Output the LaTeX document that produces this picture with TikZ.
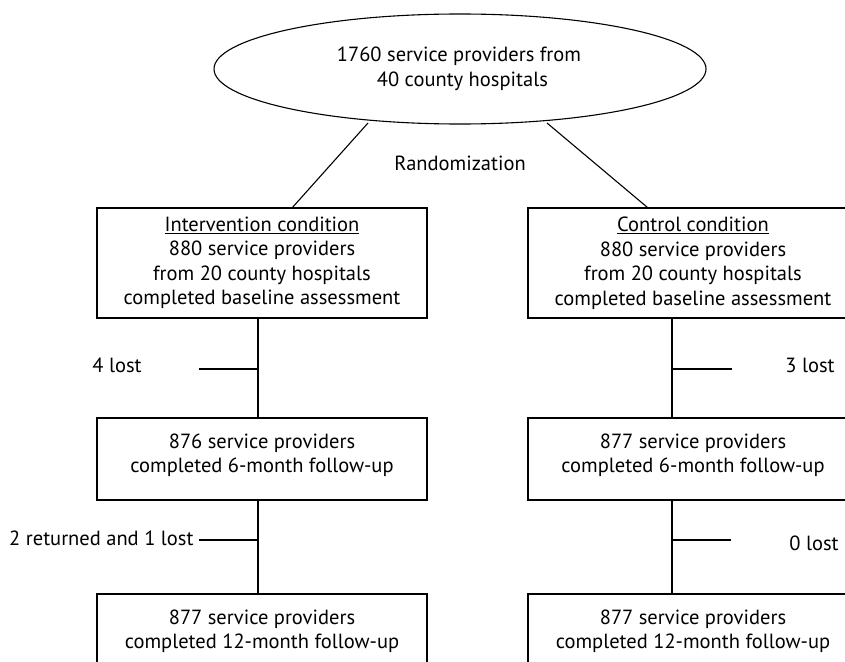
\documentclass[tikz,border=0pt]{standalone}
\usepackage{fontspec}
\setmainfont{PT Sans}
\usetikzlibrary{shapes.geometric,calc}
\begin{document}
\begin{tikzpicture}[x=1pt,y=-1pt,
  line width=1.1pt,
  every node/.style={font=\fontsize{20.5}{24.5}\selectfont, inner sep=0pt},
  flowbox/.style={draw, rectangle, minimum width=330pt, align=center},
]
\useasboundingbox (0,0) rectangle (845,661);
\clip (0,0) rectangle (845,661);
% ellipse
\node[draw, ellipse, minimum width=492pt, minimum height=110pt] (e) at (460,69) {};
\node[align=center] (et) at (459,69) {1760 service providers from\\ \,\,40 county hospitals};
\node (rand) at (460,163) {Randomization};
% row 1
\node[flowbox, minimum height=110pt] (b1l) at (262,263)
  {\underline{Intervention condition}\\880 service providers\\from 20 county hospitals\\completed baseline assessment};
\node[flowbox, minimum height=110pt] (b1r) at (693,263)
  {\underline{Control condition}\\880 service providers\\from 20 county hospitals\\completed baseline assessment};
% row 2
\node[flowbox, minimum height=82pt, text depth=12pt] (b2l) at (262,459)
  {876 service providers\\completed 6-month follow-up};
\node[flowbox, minimum height=82pt, text depth=12pt] (b2r) at (693,459)
  {877 service providers\\completed 6-month follow-up};
% row 3
\node[flowbox, minimum height=82pt, text depth=12pt] (b3l) at (262,635)
  {877 service providers\\completed 12-month follow-up};
\node[flowbox, minimum height=82pt, text depth=12pt] (b3r) at (693,635)
  {877 service providers\\completed 12-month follow-up};
% randomization lines
\coordinate (r1) at (368,123);
\coordinate (r2) at (547,123);
\draw (r1) -- ($(b1l.north west)+(196,0)$);
\draw (r2) -- ($(b1r.north west)+(120,0)$);
% spines
\draw ([xshift=-4pt]b1l.south) -- ([xshift=-4pt]b2l.north);
\draw ([xshift=-4pt]b2l.south) -- ([xshift=-4pt]b3l.north);
\draw ([xshift=-21pt]b1r.south) -- ([xshift=-21pt]b2r.north);
\draw ([xshift=-21pt]b2r.south) -- ([xshift=-21pt]b3r.north);
% ticks
\coordinate (t1l) at (258,369); \coordinate (t1le) at (199,369);
\coordinate (t1r) at (672,369); \coordinate (t1re) at (732,369);
\coordinate (t2l) at (258,540); \coordinate (t2le) at (199,540);
\coordinate (t2r) at (672,540); \coordinate (t2re) at (731,540);
\draw (t1l) -- (t1le);
\draw (t1r) -- (t1re);
\draw (t2l) -- (t2le);
\draw (t2r) -- (t2re);
\node (l1) at (117,365) {4 lost};
\node (r1l) at (810,365) {3 lost};
\node[anchor=east] (l2) at (194,538) {2 returned and 1 lost};
\node (r2l) at (814,543) {0 lost};
\end{tikzpicture}
\end{document}
